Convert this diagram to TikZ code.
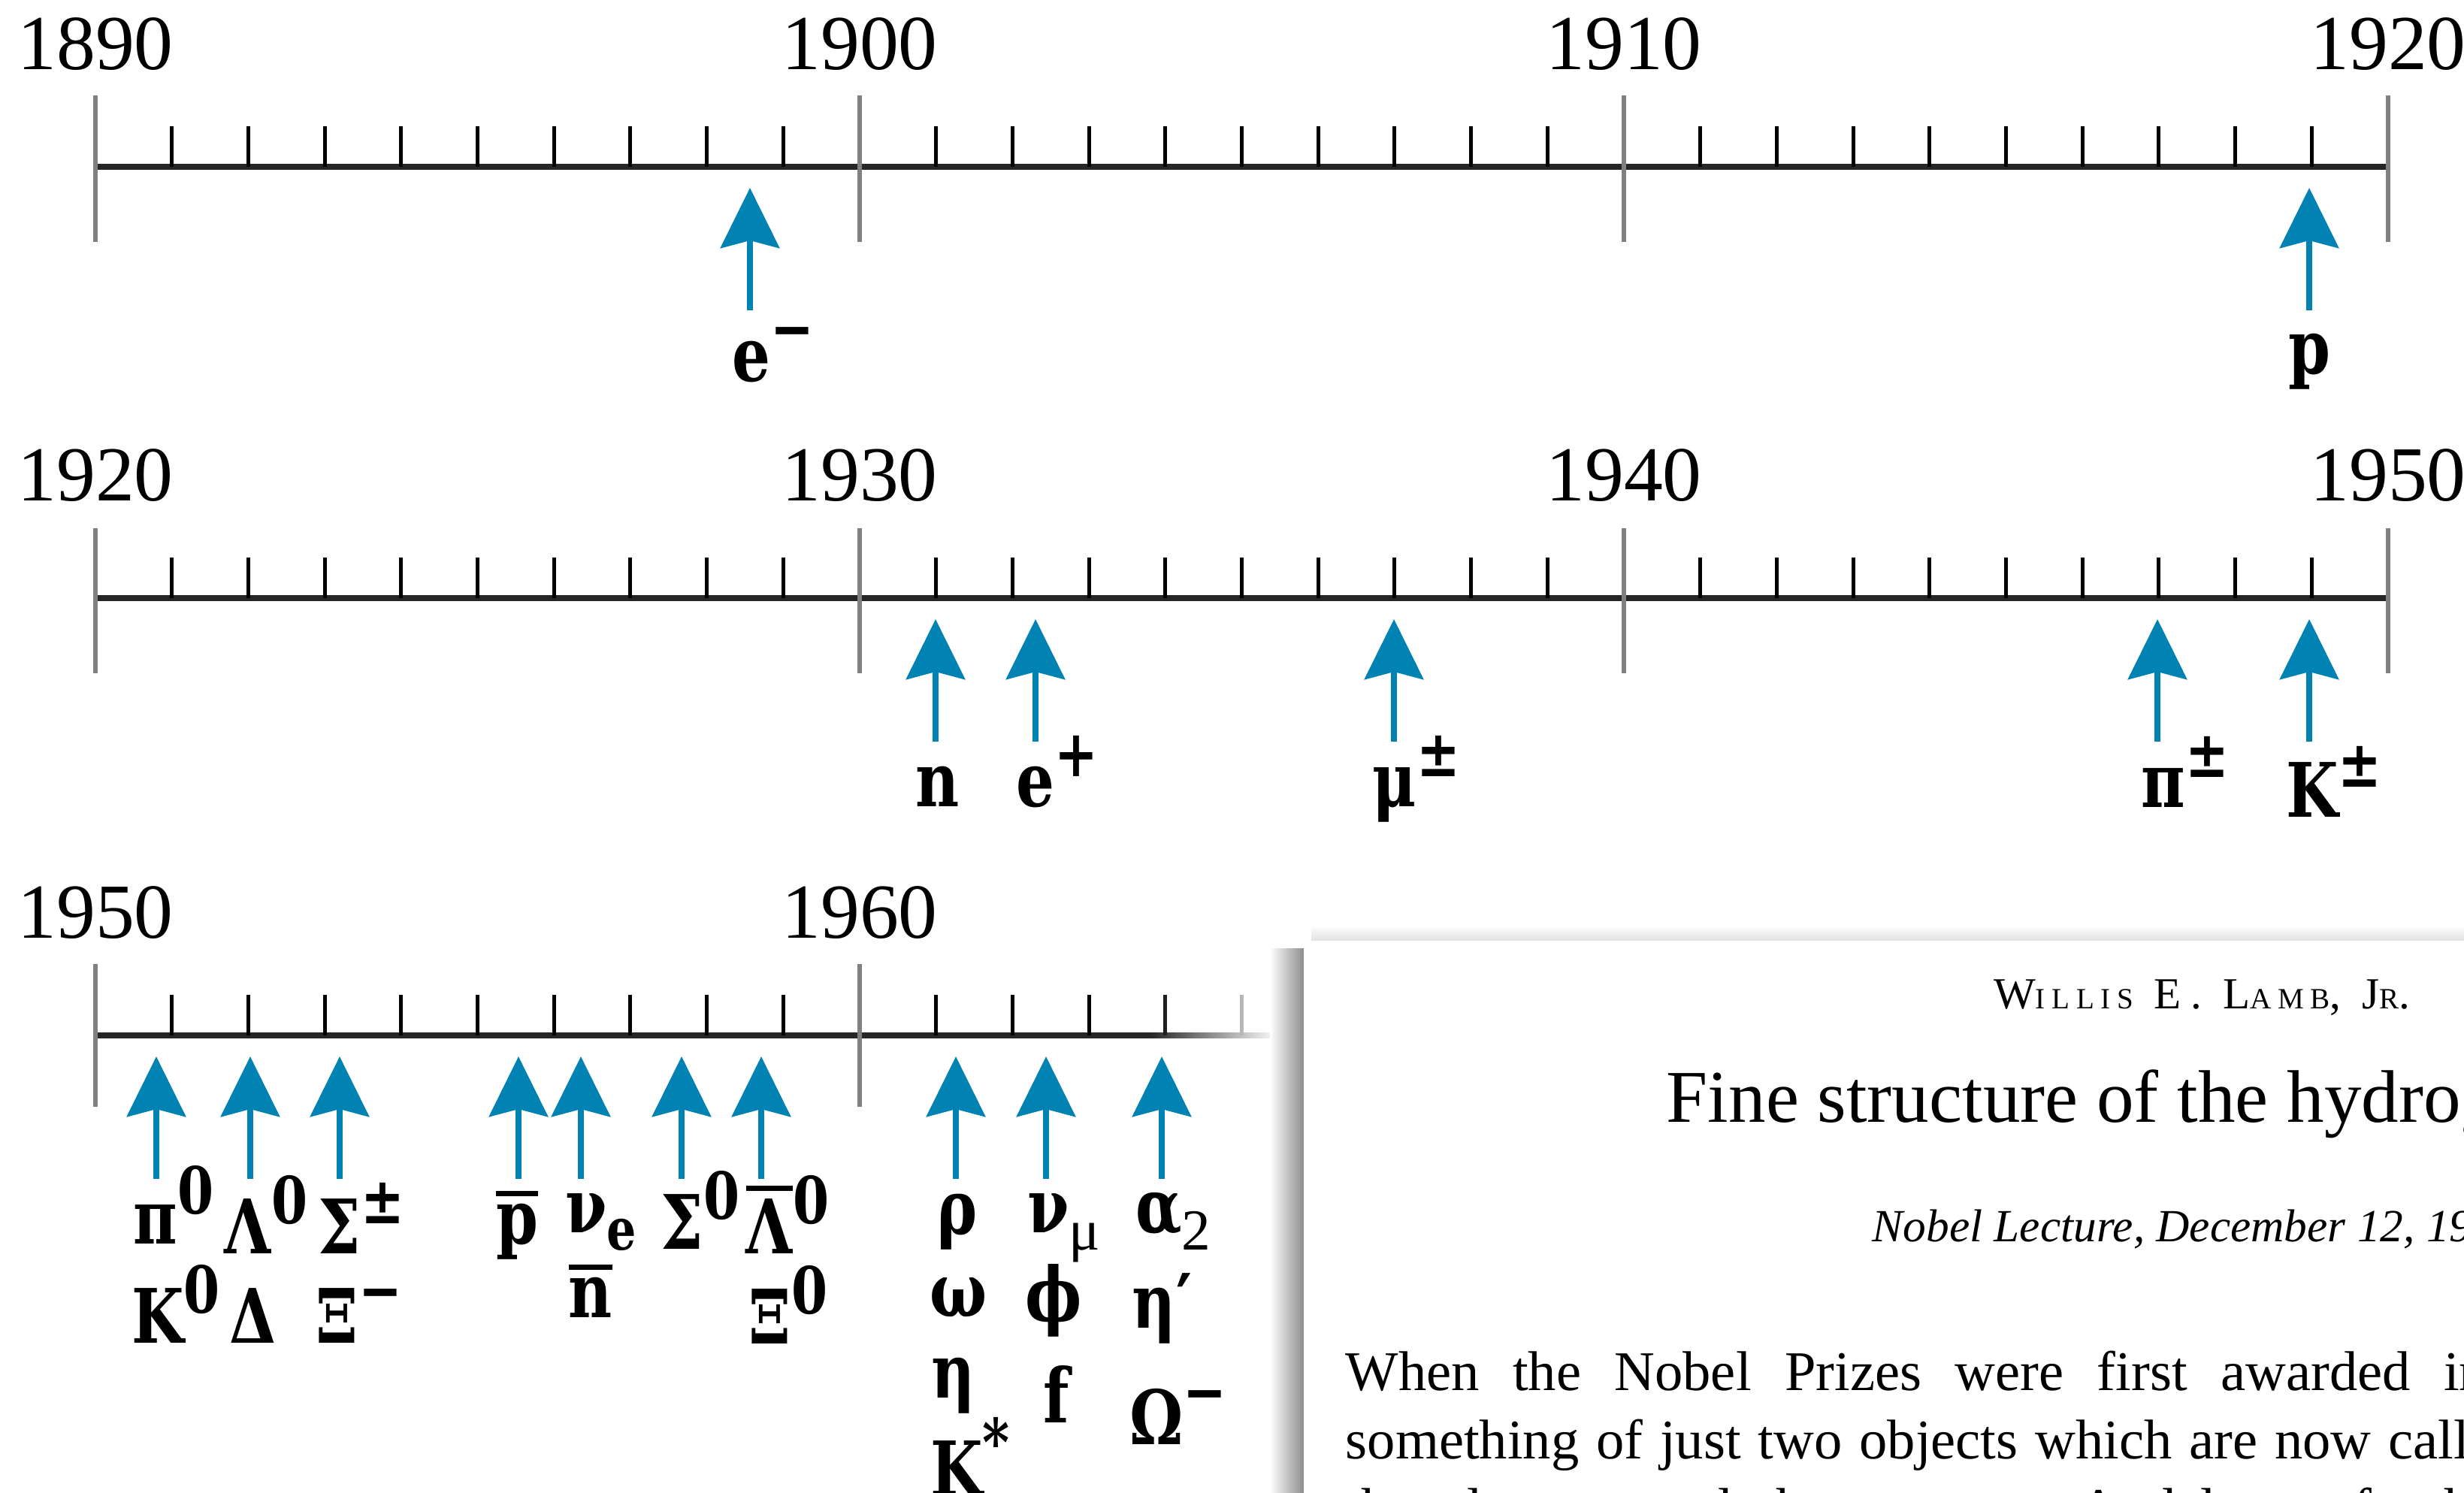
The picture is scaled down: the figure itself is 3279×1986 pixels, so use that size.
\documentclass[tikz,border=0pt]{standalone}
\usepackage{fontspec}
\setmainfont{Liberation Serif}
\newfontfamily\ptlfont[FakeStretch=0.8]{DejaVu Serif}
\usetikzlibrary{arrows.meta, fadings}
\definecolor{discblue}{RGB}{0,130,178}
\definecolor{tickgray}{RGB}{128,128,128}
\tikzfading[name=fadeleft, left color=transparent!100, right color=transparent!0]
% superscript / subscript hanging to the right, overbar for antiparticles
\newcommand\hi[1]{\rlap{\raisebox{4.4pt}{\fontsize{9.5}{10}\selectfont #1}}}
\newcommand\lo[1]{\rlap{\raisebox{-2.6pt}{\fontsize{8.5}{9}\selectfont #1}}}
\newcommand\anti[1]{\leavevmode\vbox{\hrule height 0.75pt\kern 1.1pt\hbox{#1}}}

\begin{document}
\begin{tikzpicture}[
    x=0.11pt, y=-0.11pt,
    axisline/.style={line width=0.9pt, black!85},
    major/.style={line width=0.7pt, tickgray},
    minor/.style={line width=0.55pt, black},
    year/.style={anchor=base, inner sep=0pt, font=\fontsize{11.4}{13}\selectfont},
    disc/.style={-{Stealth[length=8.8pt, width=8.6pt, inset=1.1pt]}, line width=0.85pt, discblue},
    ptl/.style={anchor=base, inner sep=0pt, font=\ptlfont\bfseries\fontsize{11}{13}\selectfont},
    paper/.style={anchor=base west, inner sep=0pt},
]
\useasboundingbox (0,0) rectangle (3279,1986);
\clip (0,0) rectangle (3279,1986);

% 1890 - 1920
\draw[axisline] (127,222) -- (3178,222);
\foreach \k in {0,...,30} \draw[minor] ({127+101.7*\k},168) -- ({127+101.7*\k},222);
\foreach \k/\yr in {0/1890,10/1900,20/1910,30/1920}{
  \draw[major] ({127+101.7*\k},127) -- ({127+101.7*\k},322);
  \node[year] (a\yr) at ({127+101.7*\k},92) {\yr};
}
\foreach \n/\x in {em/998, p/3073}{
  \coordinate (\n-tail) at (\x,413);
  \coordinate (\n-tip) at (\x,250);
  \draw[disc] (\n-tail) -- (\n-tip);
}
\node[ptl] (em) at (1000,507) {e\hi{−}};
\node[ptl] (p) at (3073,497) {p};

% 1920 - 1950
\draw[axisline] (127,796) -- (3178,796);
\foreach \k in {0,...,30} \draw[minor] ({127+101.7*\k},742) -- ({127+101.7*\k},796);
\foreach \k/\yr in {0/1920,10/1930,20/1940,30/1950}{
  \draw[major] ({127+101.7*\k},703) -- ({127+101.7*\k},896);
  \node[year] (b\yr) at ({127+101.7*\k},666) {\yr};
}
\foreach \n/\x in {n/1245, ep/1378, mu/1855, pi/2871, kc/3073}{
  \coordinate (\n-tail) at (\x,987);
  \coordinate (\n-tip) at (\x,824);
  \draw[disc] (\n-tail) -- (\n-tip);
}
\node[ptl] (n) at (1248,1073) {n};
\node[ptl] (ep) at (1378,1073) {e\hi{+}};
\node[ptl] (mu) at (1856,1073) {μ\hi{±}};
\node[ptl] (pi) at (2879,1074) {π\hi{±}};
\node[ptl] (kc) at (3077,1087) {K\hi{±}};

% 1950 - ...
\draw[axisline] (127,1378) -- (1735,1378);
\foreach \k in {0,...,16} \draw[minor] ({127+101.7*\k},1324) -- ({127+101.7*\k},1378);
\foreach \k/\yr in {0/1950,10/1960}{
  \draw[major] ({127+101.7*\k},1283) -- ({127+101.7*\k},1473);
  \node[year] (c\yr) at ({127+101.7*\k},1248) {\yr};
}
\foreach \n/\x in {pz/208, lz/333, sg/452, pb/690, nue/773, sz/907, lb/1013, rho/1272, num/1392, al/1546}{
  \coordinate (\n-tail) at (\x,1569);
  \coordinate (\n-tip) at (\x,1406);
  \draw[disc] (\n-tail) -- (\n-tip);
}
\node[ptl] (pz) at (207,1655) {π\hi{0}};
\node[ptl] (lz) at (330,1668) {Λ\hi{0}};
\node[ptl] (sg) at (452,1668) {Σ\hi{±}};
\node[ptl] (pb) at (688,1655) {\anti{p}};
\node[ptl] (nue) at (780,1640) {ν\lo{e}};
\node[ptl] (sz) at (908,1662) {Σ\hi{0}};
\node[ptl] (lb) at (1024,1668) {\anti{Λ}\hi{0}};
\node[ptl] (rho) at (1274,1642) {ρ};
\node[ptl] (num) at (1395,1640) {ν\lo{\rmfamily\mdseries μ}};
\node[ptl] (al) at (1542,1640) {α\lo{\rmfamily\mdseries 2}};
\node[ptl] (kz) at (210,1787) {K\hi{0}};
\node[ptl] (dl) at (337,1787) {Δ};
\node[ptl] (xm) at (449,1787) {Ξ\hi{−}};
\node[ptl] (nb) at (786,1753) {\anti{n}};
\node[ptl] (xz) at (1025,1788) {Ξ\hi{0}};
\node[ptl] (om) at (1276,1752) {ω};
\node[ptl] (phi) at (1402,1758) {ϕ};
\node[ptl] (etp) at (1536,1767) {η\rlap{′}};
\node[ptl] (eta) at (1269,1860) {η};
\node[ptl] (f) at (1406,1893) {f};
\node[ptl] (omm) at (1539,1922) {Ω\hi{−}};
\node[ptl] (ks) at (1273,1990) {K\hi{*}};

% faded end of the third axis, overlapping page
\fill[white, path fading=fadeleft] (1530,1270) rectangle (1700,1400);
\fill[white] (1700,1270) rectangle (1735,1400);
\shade[top color=white, bottom color=black!12] (1745,1232) rectangle (3279,1252);
\shade[left color=white, right color=black!45] (1690,1262) rectangle (1735,1986);
\fill[white] (1735,1252) rectangle (3300,2000);

\node[paper, anchor=base] (author) at (2930,1342)
  {\fontsize{6.5}{8}\selectfont\addfontfeatures{LetterSpace=22}W{\fontsize{4.3}{5}\selectfont ILLIS} E. L{\fontsize{4.3}{5}\selectfont AMB}, J{\fontsize{4.3}{5}\selectfont R}.};
\node[paper] (title) at (2216,1493)
  {\fontsize{10.9}{13}\selectfont Fine structure of the hydrogen atom};
\node[paper] (date) at (2490,1652)
  {\fontsize{6.75}{8}\selectfont\itshape Nobel Lecture, December 12, 1955};
\node[paper] (line1) at (1789,1850)
  {\fontsize{8.2}{10}\selectfont\makebox[251pt][s]{When the Nobel Prizes were first awarded in 1901, physicists knew}};
\node[paper] (line2) at (1789,1941)
  {\fontsize{8.2}{10}\selectfont\makebox[251pt][s]{something of just two objects which are now called “elementary particles”:}};
\node[paper] (line3) at (1789,2032)
  {\fontsize{8.2}{10}\selectfont\makebox[251pt][s]{the electron and the proton. A deluge of other “elementary” particles}};
\end{tikzpicture}
\end{document}
